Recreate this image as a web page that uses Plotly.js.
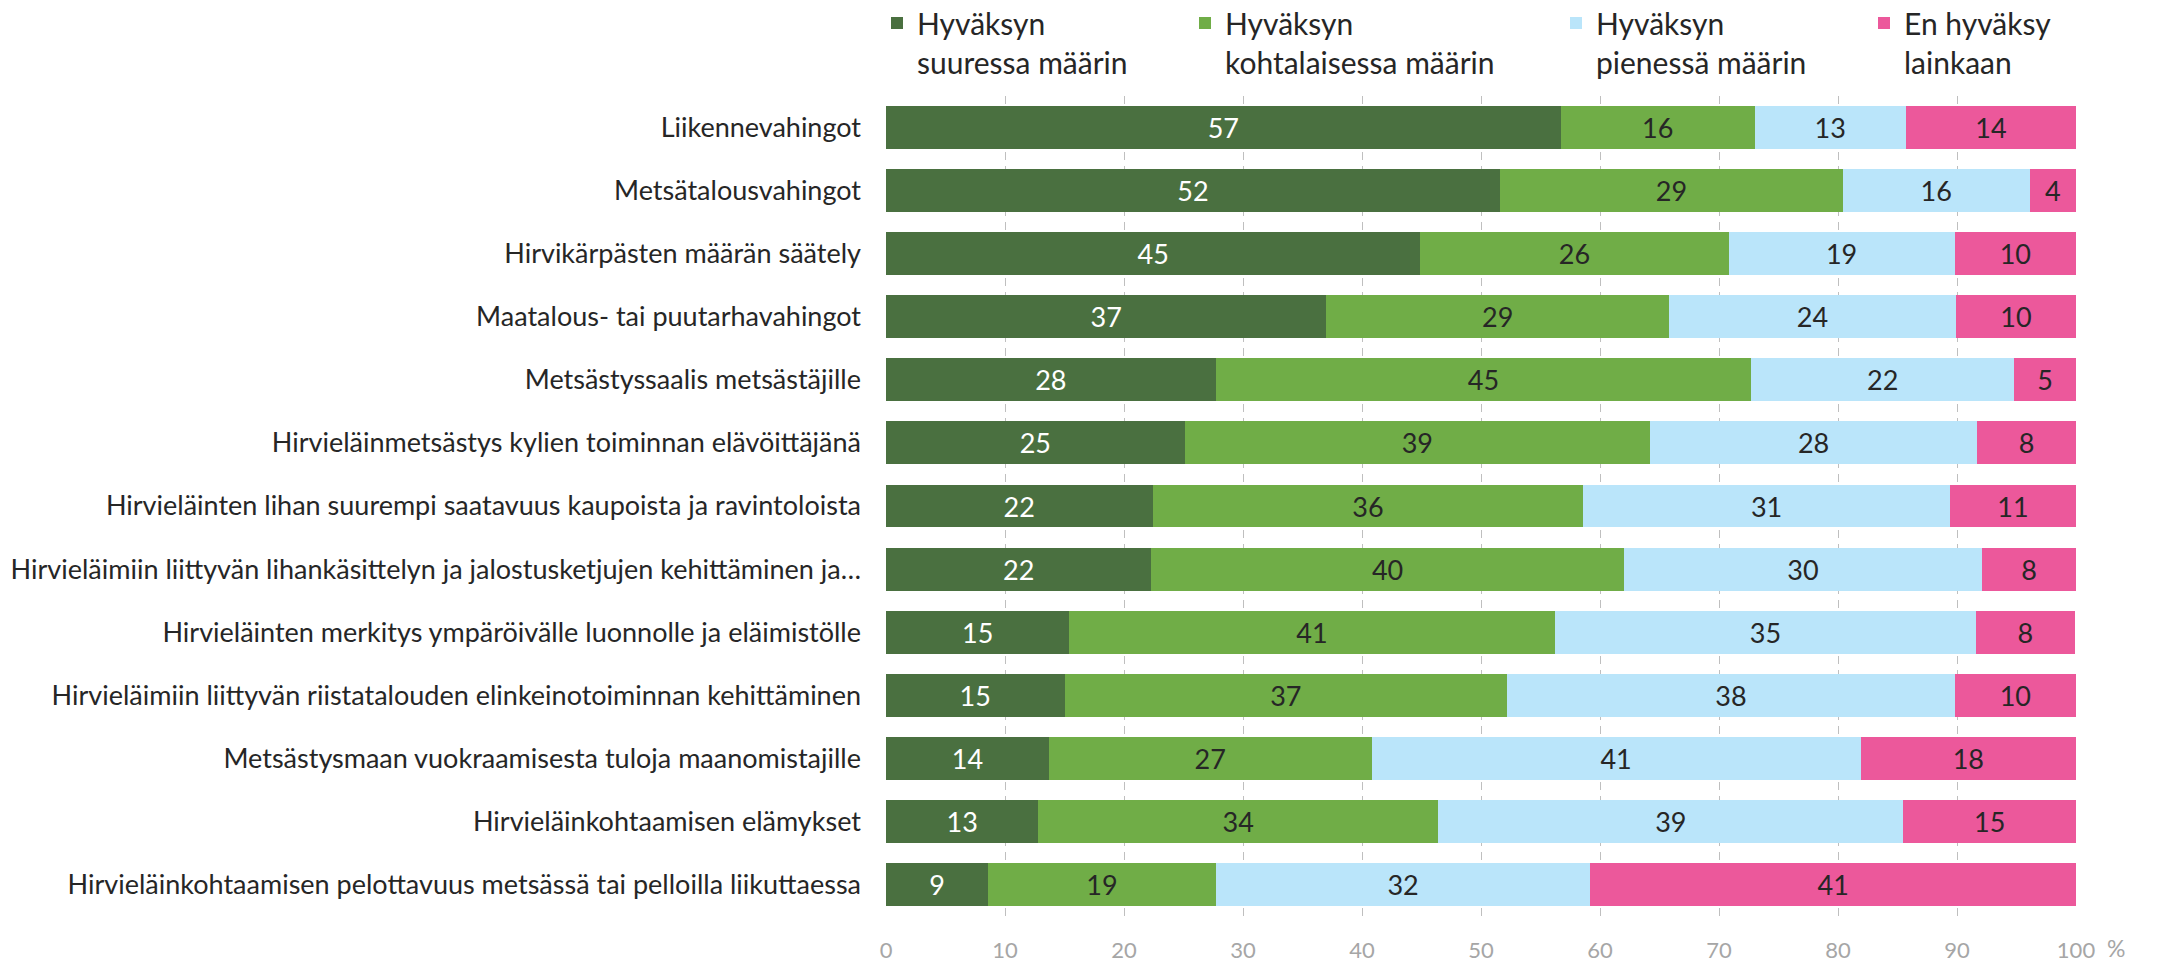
<!DOCTYPE html>
<html>
<head>
<meta charset="utf-8">
<script src="https://cdn.plot.ly/plotly-3.0.1.min.js"></script>
<style>
  html, body { margin: 0; padding: 0; background: #ffffff; }
  #chart { width: 2171px; height: 964px; }
</style>
</head>
<body>
<div id="chart"></div>
<script>
// ---- Data ----
const categories = [
  "Liikennevahingot",
  "Metsätalousvahingot",
  "Hirvikärpästen määrän säätely",
  "Maatalous- tai puutarhavahingot",
  "Metsästyssaalis metsästäjille",
  "Hirvieläinmetsästys kylien toiminnan elävöittäjänä",
  "Hirvieläinten lihan suurempi saatavuus kaupoista ja ravintoloista",
  "Hirvieläimiin liittyvän lihankäsittelyn ja jalostusketjujen kehittäminen ja…",
  "Hirvieläinten merkitys ympäröivälle luonnolle ja eläimistölle",
  "Hirvieläimiin liittyvän riistatalouden elinkeinotoiminnan kehittäminen",
  "Metsästysmaan vuokraamisesta tuloja maanomistajille",
  "Hirvieläinkohtaamisen elämykset",
  "Hirvieläinkohtaamisen pelottavuus metsässä tai pelloilla liikuttaessa"
];

const seriesNames = [
  "Hyväksyn<br>suuressa määrin",
  "Hyväksyn<br>kohtalaisessa määrin",
  "Hyväksyn<br>pienessä määrin",
  "En hyväksy<br>lainkaan"
];

const suuressaMaarin      = [56.7, 51.6, 44.9, 37.0, 27.7, 25.1, 22.4, 22.3, 15.4, 15.0, 13.7, 12.8, 8.6];
const kohtalaisessaMaarin = [16.3, 28.8, 25.9, 28.8, 45.0, 39.1, 36.2, 39.7, 40.8, 37.2, 27.1, 33.6, 19.1];
const pienessaMaarin      = [12.7, 15.7, 19.0, 24.1, 22.1, 27.5, 30.8, 30.1, 35.4, 37.6, 41.1, 39.1, 31.5];
const enLainkaan          = [14.3,  3.9, 10.2, 10.1,  5.2,  8.3, 10.6,  7.9,  8.3, 10.2, 18.1, 14.5, 40.8];

const xTickValues = [0, 10, 20, 30, 40, 50, 60, 70, 80, 90, 100];
const xUnitLabel = "%";

// ---- Styling ----
const FONT = "Lato, 'Open Sans', 'DejaVu Sans', sans-serif";
const colors = ["#4a7040", "#70ad47", "#bae5fa", "#ec589b"];
const labelColors = ["#ffffff", "#262626", "#262626", "#262626"];
const values = [suuressaMaarin, kohtalaisessaMaarin, pienessaMaarin, enLainkaan];
const legendIds = ["legend", "legend2", "legend3", "legend4"];

const traces = values.map((vals, i) => ({
  type: "bar",
  orientation: "h",
  name: seriesNames[i],
  y: categories,
  x: vals,
  legend: legendIds[i],
  marker: { color: colors[i], line: { width: 0 } },
  texttemplate: "%{x:.0f}",
  textposition: "inside",
  insidetextanchor: "middle",
  textangle: 0,
  constraintext: "none",
  textfont: { family: FONT, size: 27, color: labelColors[i] },
  hoverinfo: "skip"
}));

// plot area in pixels: left 886, right 2076, top 96, bottom 916
const W = 2171, H = 964;
const L = 886, R = 95, T = 96, B = 48;
const plotW = W - L - R, plotH = H - T - B;
const px2x = p => (p - L) / plotW;
const py2y = p => 1 + (T - p) / plotH;

const legendLefts = [877, 1185, 1556, 1864];
const legendBase = {
  orientation: "v",
  xanchor: "left",
  yanchor: "top",
  y: py2y(-3),
  bgcolor: "rgba(0,0,0,0)",
  borderwidth: 0,
  valign: "top",
  font: { family: FONT, size: 30, color: "#262626" },
  itemclick: false,
  itemdoubleclick: false
};

const layout = {
  width: W,
  height: H,
  margin: { l: L, r: R, t: T, b: B, autoexpand: false },
  paper_bgcolor: "#ffffff",
  plot_bgcolor: "#ffffff",
  barmode: "stack",
  bargap: 0.32,
  font: { family: FONT, color: "#262626" },
  showlegend: true,
  xaxis: {
    range: [0, 100],
    tickmode: "array",
    tickvals: xTickValues,
    ticktext: xTickValues.map(String),
    showgrid: true,
    gridcolor: "#bfbfbf",
    gridwidth: 1,
    griddash: "8px,6px",
    zeroline: false,
    showline: false,
    ticks: "",
    ticklabelstandoff: 19,
    tickfont: { family: FONT, size: 22, color: "#a6a6a6" },
    fixedrange: true
  },
  yaxis: {
    type: "category",
    categoryorder: "array",
    categoryarray: categories,
    autorange: "reversed",
    showgrid: false,
    zeroline: false,
    showline: false,
    ticks: "",
    ticklabelstandoff: 24,
    tickfont: { family: FONT, size: 27, color: "#262626" },
    fixedrange: true
  },
  annotations: [{
    text: xUnitLabel,
    xref: "paper", yref: "paper",
    x: px2x(2116), y: py2y(948),
    xanchor: "center", yanchor: "middle",
    showarrow: false,
    font: { family: FONT, size: 23, color: "#a6a6a6" }
  }]
};

legendIds.forEach((id, i) => {
  layout[id] = Object.assign({}, legendBase, { x: px2x(legendLefts[i]) });
});

Plotly.newPlot("chart", traces, layout, { displayModeBar: false, staticPlot: true });
</script>
</body>
</html>
